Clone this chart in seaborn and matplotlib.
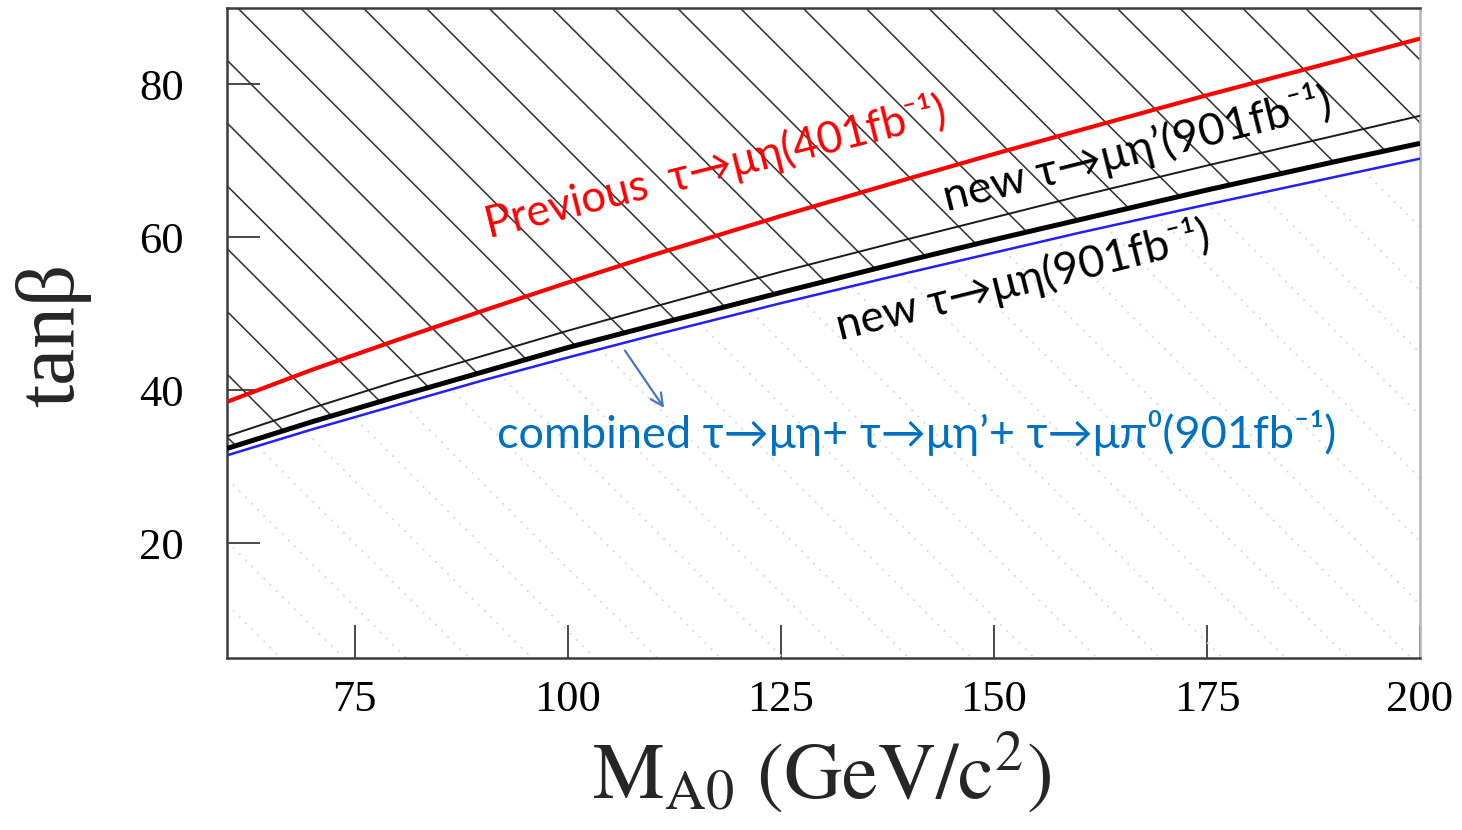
import numpy as np
import pandas as pd
import matplotlib
matplotlib.use("Agg")
import matplotlib.pyplot as plt
import matplotlib.transforms as mtransforms
from matplotlib.collections import LineCollection
import seaborn as sns

# Exclusion boundaries in the (M_A0, tan(beta)) plane
mass = [60, 70, 80, 90, 100, 110, 125, 140, 150, 160, 175, 190, 200]
tanb_prev_eta = [38.5, 42.7, 46.6, 50.4, 54.1, 57.7, 62.8, 67.7, 70.9, 74.0, 78.6, 83.0, 86.0]
tanb_new_etaprime = [34.0, 37.7, 41.2, 44.5, 47.8, 50.9, 55.5, 59.8, 62.6, 65.4, 69.4, 73.3, 75.9]
tanb_new_eta = [32.4, 35.9, 39.2, 42.4, 45.6, 48.5, 52.8, 57.0, 59.7, 62.3, 66.2, 69.9, 72.3]
tanb_combined = [31.5, 34.9, 38.1, 41.3, 44.3, 47.2, 51.4, 55.4, 58.0, 60.6, 64.3, 67.9, 70.3]

x_ticks = [75, 100, 125, 150, 175, 200]
y_ticks = [20, 40, 60, 80]
x_range = (60, 200)
y_range = (5, 90)

label_prev = "Previous  τ→μη(401fb⁻¹)"
label_etaprime = "new τ→μη’(901fb⁻¹)"
label_eta = "new τ→μη(901fb⁻¹)"
label_comb = "combined τ→μη+ τ→μη’+ τ→μπ⁰(901fb⁻¹)"

sns.set_theme(style="white")
plt.rcParams["font.family"] = ["Liberation Serif", "DejaVu Serif"]
plt.rcParams["mathtext.fontset"] = "stix"

W, H = 1462, 830
fig = plt.figure(figsize=(W / 100, H / 100), dpi=100)
ax = fig.add_axes([227 / W, 172 / H, 1193 / W, 650 / H])

df = pd.DataFrame({
    "mass": mass * 4,
    "tanb": tanb_prev_eta + tanb_new_etaprime + tanb_new_eta + tanb_combined,
    "curve": (["prev"] * len(mass) + ["etap"] * len(mass)
              + ["eta"] * len(mass) + ["comb"] * len(mass)),
})

styles = {
    "prev": dict(color="#ff0000", lw=3.0),
    "etap": dict(color="#1a1a1a", lw=1.4),
    "eta": dict(color="#000000", lw=3.6),
    "comb": dict(color="#1f1fff", lw=1.8),
}
for name, st in styles.items():
    sns.lineplot(data=df[df["curve"] == name], x="mass", y="tanb", ax=ax,
                 color=st["color"], linewidth=st["lw"], zorder=4,
                 legend=False, solid_capstyle="butt")

ax.set_xlim(*x_range)
ax.set_ylim(*y_range)

# Regions for the hatching
excl = ax.fill_between(mass, tanb_new_eta, y_range[1], facecolor="none",
                       edgecolor="none", linewidth=0)
allowed = ax.fill_between(mass, y_range[0], tanb_combined, facecolor="none",
                          edgecolor="none", linewidth=0)

# 45 degree hatch lines in pixel space
ident = mtransforms.IdentityTransform()
spacing = 62.8
offsets = np.arange(229.7 - 30 * spacing, 229.7 + 30 * spacing, spacing) + H
xs = np.array([0.0, W + 200.0])
segs = [np.column_stack([xs, c - xs]) for c in offsets]
hatch = LineCollection(segs, colors="#353535", linewidths=1.15,
                       transform=ident, zorder=2)
ax.add_collection(hatch, autolim=False)
hatch.set_clip_path(excl.get_paths()[0], ax.transData)

segs2 = [np.column_stack([xs, c + 21 - xs]) for c in offsets]
dots = LineCollection(segs2, colors="#d9d9d9", linewidths=1.2,
                      linestyles=[(0, (1.2, 4))], transform=ident, zorder=1)
ax.add_collection(dots, autolim=False)
dots.set_clip_path(allowed.get_paths()[0], ax.transData)

# Axes styling
ax.set_xticks(x_ticks)
ax.set_yticks(y_ticks)
ax.set_xticklabels([str(v) for v in x_ticks])
ax.set_yticklabels([str(v) for v in y_ticks])
ax.tick_params(axis="both", direction="in", length=24, width=1.3,
               color="#3a3a3a", labelsize=32, labelcolor="black")
ax.tick_params(axis="x", pad=16, bottom=True, top=False)
ax.tick_params(axis="y", pad=31, left=True, right=False)
for side in ["left", "bottom", "top"]:
    ax.spines[side].set_color("#3c3c3c")
    ax.spines[side].set_linewidth(1.8)
ax.spines["right"].set_color("#b5b5b5")
ax.spines["right"].set_linewidth(1.8)
ax.set_xlabel("")
ax.set_ylabel("")

# Axis titles
fig.text(53 / W, 1 - 335 / H, "tanβ", rotation=90, ha="center", va="center",
         fontsize=60, family=["Liberation Serif", "DejaVu Serif"])
fig.text(822 / W, 31 / H, r"$\mathrm{M_{A0}\ (GeV/c^{2})}$", ha="center",
         va="baseline", fontsize=58, math_fontfamily="stix")

# Curve labels
sans = ["Lato", "Liberation Serif", "DejaVu Sans"]
ax.text(90.8, 59.9, label_prev, color="#ff0000", fontsize=31.5, family=sans,
        rotation=14, rotation_mode="anchor", ha="left", va="baseline", zorder=6)
ax.text(144.5, 63.4, label_etaprime, color="black", fontsize=32.5, family=sans,
        rotation=14, rotation_mode="anchor", ha="left", va="baseline", zorder=6)
ax.text(131.9, 46.5, label_eta, color="black", fontsize=32, family=sans,
        rotation=14, rotation_mode="anchor", ha="left", va="baseline", zorder=6)
ax.text(91.7, 32.5, label_comb, color="#0070c0", fontsize=32.5, family=sans,
        ha="left", va="baseline", zorder=6)
ax.annotate("", xy=(111.3, 37.7), xytext=(106.7, 45.2),
            arrowprops=dict(arrowstyle="->", color="#4a76c0", lw=1.6,
                            mutation_scale=22, shrinkA=0, shrinkB=0),
            zorder=6)

fig.savefig("out.png", dpi=100)
